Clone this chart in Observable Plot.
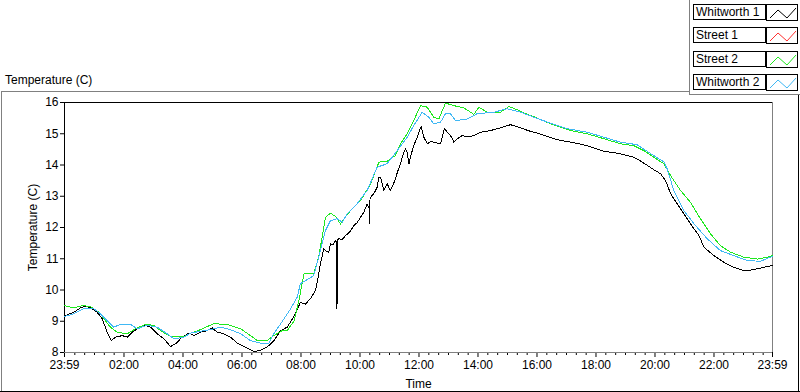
<!DOCTYPE html>
<html><head><meta charset="utf-8">
<script src="https://cdn.jsdelivr.net/npm/d3@7"></script>
<script src="https://cdn.jsdelivr.net/npm/@observablehq/plot@0.6"></script>
<style>
body{margin:0;background:#fff;font-family:"Liberation Sans",Arial,sans-serif;font-size:12px;color:#000}
#wrap{position:relative;width:800px;height:392px;overflow:hidden;background:#fff}
#chart{position:absolute;left:0;top:0}
.ln{position:absolute;background:#808080}
.blk{background:#000}
#title{position:absolute;left:5px;top:73px;font-size:12px;line-height:14px}
.lab{position:absolute;left:693px;width:69px;height:14px;border:1px solid #000;background:#fff;font-size:12px;line-height:14px;padding-left:2px;box-sizing:content-box;white-space:nowrap}
.sw{position:absolute;left:766px;width:30px;height:15px;border:1px solid #000;background:#fff}
.sw svg{display:block}
</style></head><body>
<div id="wrap">
<div id="chart"></div>
</div>
<script>
// Time in hours after midnight (start 23:59 of the previous day = -1/60), temperature in °C
const seriesNames = ["Whitworth 1", "Street 1", "Street 2", "Whitworth 2"];
const seriesColors = ["#000000", "#ff3030", "#1ee81e", "#40b8f4"];

const whitworth1 = [
[-0.017,9.17],[0.30,9.29],[0.53,9.43],[0.70,9.48],[0.87,9.43],[1.09,9.29],[1.26,9.08],[1.43,8.65],[1.57,8.38],
[1.71,8.49],[1.94,8.54],[2.11,8.49],[2.28,8.65],[2.45,8.76],[2.73,8.86],[2.90,8.81],[3.13,8.60],[3.35,8.44],
[3.58,8.19],[3.75,8.28],[3.97,8.49],[4.20,8.62],[4.37,8.54],[4.59,8.65],[4.82,8.70],[4.99,8.79],[5.16,8.65],
[5.38,8.60],[5.61,8.49],[5.84,8.30],[6.12,8.17],[6.40,8.03],[6.63,8.07],[6.85,8.17],[7.08,8.38],[7.31,8.70],
[7.53,8.81],[7.76,9.15],[7.98,9.60],[8.15,9.55],[8.32,9.72],[8.49,9.98],[8.58,10.40],[8.66,10.84],[8.77,11.32],
[8.85,11.25],[8.94,11.21],[9.00,11.48],[9.08,11.45],[9.17,11.58],[9.21,11.55],[9.22,9.40],[9.24,11.60],[9.28,11.64],
[9.40,11.62],[9.51,11.74],[9.65,11.85],[9.79,12.06],[9.90,12.15],[10.02,12.33],[10.14,12.50],[10.24,12.76],[10.32,12.60],
[10.33,12.12],[10.34,12.90],[10.36,12.97],[10.48,13.10],[10.58,13.29],[10.64,13.60],[10.70,13.59],[10.81,13.18],
[10.92,13.40],[11.03,13.18],[11.12,13.35],[11.20,13.56],[11.28,13.80],[11.37,14.04],[11.45,14.30],[11.54,14.52],
[11.60,14.40],[11.66,14.04],[11.74,14.35],[11.82,14.62],[11.94,14.89],[12.07,15.23],[12.16,14.90],[12.28,14.68],
[12.40,14.75],[12.50,14.73],[12.62,14.70],[12.73,14.68],[12.86,15.16],[13.01,15.00],[13.10,14.90],[13.18,14.73],
[13.32,14.85],[13.46,14.94],[13.65,14.90],[13.86,14.94],[14.08,15.05],[14.30,15.08],[14.54,15.13],[14.80,15.20],
[15.10,15.29],[15.44,15.19],[15.70,15.10],[16.01,15.02],[16.30,14.93],[16.57,14.84],[16.85,14.78],[17.14,14.73],
[17.42,14.68],[17.70,14.62],[17.98,14.53],[18.27,14.44],[18.55,14.40],[18.83,14.36],[19.05,14.30],[19.28,14.25],
[19.45,14.16],[19.62,14.06],[19.80,13.95],[19.96,13.85],[20.19,13.72],[20.36,13.50],[20.53,13.08],[20.75,12.76],
[20.98,12.44],[21.20,12.12],[21.49,11.74],[21.66,11.37],[22.00,11.10],[22.33,10.89],[22.67,10.73],[23.01,10.62],
[23.25,10.64],[23.47,10.68],[23.80,10.75],[23.983,10.78]
];

const street1 = [];

const street2 = [
[-0.017,9.50],[0.30,9.43],[0.58,9.50],[0.87,9.47],[1.15,9.29],[1.37,9.02],[1.54,8.81],[1.77,8.65],[2.11,8.60],
[2.39,8.76],[2.73,8.90],[3.01,8.87],[3.24,8.70],[3.58,8.51],[4.03,8.51],[4.26,8.62],[4.59,8.73],[5.04,8.92],
[5.50,8.90],[5.95,8.76],[6.29,8.54],[6.52,8.38],[6.85,8.38],[7.08,8.54],[7.36,8.70],[7.53,8.70],[7.76,9.00],
[7.93,9.66],[8.10,10.52],[8.43,10.52],[8.60,11.05],[8.83,12.33],[9.00,12.46],[9.17,12.35],[9.34,12.11],
[9.45,12.27],[9.68,12.54],[10.02,12.86],[10.36,13.40],[10.64,14.09],[10.92,14.12],[11.20,14.30],[11.37,14.68],
[11.60,15.00],[11.82,15.42],[12.05,15.90],[12.28,15.85],[12.50,15.53],[12.67,15.47],[12.79,15.74],[12.90,15.98],
[13.18,15.90],[13.52,15.83],[13.86,15.62],[14.03,15.85],[14.31,15.69],[14.76,15.69],[15.05,15.87],[15.33,15.77],
[15.67,15.62],[15.90,15.55],[16.12,15.45],[16.46,15.32],[17.14,15.10],[17.70,15.00],[18.27,14.84],[18.83,14.68],
[19.28,14.62],[19.62,14.46],[19.96,14.25],[20.30,14.04],[20.53,13.66],[20.87,13.18],[21.20,12.81],[21.54,12.28],
[21.88,11.80],[22.22,11.42],[22.56,11.21],[23.01,11.05],[23.47,10.99],[23.80,11.05],[23.983,11.10]
];

const whitworth2 = [
[-0.017,9.15],[0.30,9.24],[0.64,9.40],[0.98,9.40],[1.20,9.24],[1.43,9.02],[1.65,8.81],[1.88,8.90],[2.22,8.90],
[2.45,8.76],[2.79,8.87],[3.13,8.81],[3.46,8.60],[3.69,8.44],[4.03,8.49],[4.26,8.62],[4.59,8.68],[4.93,8.73],
[5.27,8.81],[5.61,8.73],[5.95,8.60],[6.29,8.38],[6.63,8.30],[6.91,8.30],[7.08,8.60],[7.31,8.92],[7.65,9.40],
[7.87,9.77],[7.98,10.20],[8.43,10.46],[8.66,11.26],[8.83,11.90],[9.00,12.22],[9.22,12.28],[9.40,12.17],
[9.57,12.44],[9.90,12.76],[10.24,13.18],[10.58,13.93],[10.92,14.04],[11.26,14.46],[11.60,14.89],[11.82,15.26],
[12.11,15.69],[12.33,15.53],[12.50,15.32],[12.73,15.37],[12.90,15.64],[13.07,15.64],[13.24,15.42],[13.63,15.47],
[13.97,15.64],[14.54,15.69],[14.99,15.80],[15.44,15.69],[16.12,15.45],[17.03,15.16],[17.70,15.05],[18.83,14.73],
[19.39,14.65],[19.96,14.30],[20.30,14.10],[20.41,13.88],[20.64,13.18],[20.98,12.54],[21.32,12.12],[21.77,11.64],
[22.22,11.26],[22.67,11.10],[23.13,10.94],[23.58,10.92],[23.983,11.08]
];

const seriesData = [whitworth1, street1, street2, whitworth2];

const yTicks = [8, 9, 10, 11, 12, 13, 14, 15, 16];
const xTickPositions = [-1/60, 2, 4, 6, 8, 10, 12, 14, 16, 18, 20, 22, 24 - 1/60];
const xTickLabels = ["23:59", "02:00", "04:00", "06:00", "08:00", "10:00", "12:00", "14:00", "16:00", "18:00", "20:00", "22:00", "23:59"];
const xMinorTicks = d3.range(20, 1440, 20).filter(m => m % 120 !== 0).map(m => m / 60);
const yLabel = "Temperature (C)";
const xLabel = "Time";

const rows = seriesData.flatMap((arr, i) => arr.map(([t, v]) => ({t, v, s: seriesNames[i]})));
const xDomain = [xTickPositions[0], xTickPositions[xTickPositions.length - 1]];

const plot = Plot.plot({
  width: 800, height: 392,
  marginLeft: 64, marginRight: 28, marginTop: 102, marginBottom: 40,
  style: {fontFamily: '"Liberation Sans", Arial, sans-serif', fontSize: "12px", background: "transparent", color: "#000"},
  x: {domain: xDomain},
  y: {domain: [8, 16]},
  color: {domain: seriesNames, range: seriesColors},
  marks: [
    Plot.axisY({ticks: yTicks, tickSize: 4, tickPadding: 2, label: null, fontSize: 12}),
    Plot.axisX({ticks: xMinorTicks, tickSize: 3, tickFormat: () => "", label: null}),
    Plot.axisX({ticks: xTickPositions, tickFormat: (d, i) => xTickLabels[i], tickSize: 5, tickPadding: 3, label: null, fontSize: 12}),
    Plot.text([yLabel], {frameAnchor: "left", dx: -31, rotate: -90, text: d => d, fontSize: 12, lineAnchor: "middle", textAnchor: "middle"}),
    Plot.text([xLabel], {frameAnchor: "bottom", dy: 32, text: d => d, fontSize: 12, lineAnchor: "middle"}),
    Plot.ruleY([8], {stroke: "#808080"}),
    Plot.ruleX([xDomain[1]], {stroke: "#808080"}),
    Plot.ruleY([16], {stroke: "#000"}),
    Plot.ruleX([xDomain[0]], {stroke: "#000"}),
    Plot.line(rows, {x: "t", y: "v", z: "s", stroke: "s", strokeWidth: 1, shapeRendering: "crispEdges"})
  ]
});
document.getElementById("chart").appendChild(plot);

// decorations: title, panel borders, legend
const wrap = document.getElementById("wrap");
function add(html) { wrap.insertAdjacentHTML("beforeend", html); }
add(`<div id="title">${yLabel}</div>`);
add('<div class="ln" style="left:1px;top:91px;width:688px;height:1px"></div>');
add('<div class="ln" style="left:689px;top:0;width:1px;height:95px"></div>');
add('<div class="ln" style="left:689px;top:94px;width:111px;height:1px"></div>');
add('<div class="ln" style="left:1px;top:91px;width:1px;height:301px"></div>');
add('<div class="ln blk" style="left:0;top:391px;width:800px;height:1px"></div>');
add('<div class="ln blk" style="left:798px;top:95px;width:1px;height:297px"></div>');
const rowTops = [4, 27, 51, 74];
seriesNames.forEach((n, i) => {
  add(`<div class="lab" style="top:${rowTops[i]}px">${n}</div>`);
  add(`<div class="sw" style="top:${rowTops[i]}px"><svg width="30" height="15"><polyline points="3,13 11,5 20,13 29,3" fill="none" stroke="${seriesColors[i]}" stroke-width="1"/></svg></div>`);
});
</script>
</body></html>
